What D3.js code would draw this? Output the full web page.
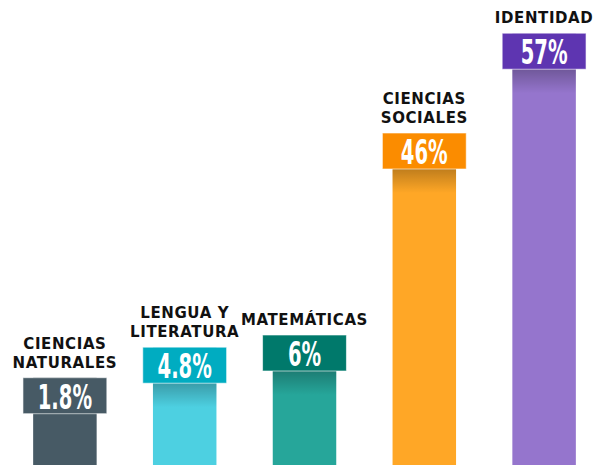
<!DOCTYPE html>
<html>
<head>
<meta charset="utf-8">
<script src="https://cdn.jsdelivr.net/npm/d3@7"></script>
<style>
    html, body { margin: 0; padding: 0; background: #fff; }
    svg { display: block; }
</style>
</head>
<body>
<svg id="chart_svg"></svg>
<script>
// Data
var categories = ['CIENCIAS NATURALES', 'LENGUA Y LITERATURA', 'MATEMÁTICAS', 'CIENCIAS SOCIALES', 'IDENTIDAD'];
var labelLines = [['CIENCIAS', 'NATURALES'], ['LENGUA Y', 'LITERATURA'], ['MATEMÁTICAS'], ['CIENCIAS', 'SOCIALES'], ['IDENTIDAD']];
var values = [1.8, 4.8, 6, 46, 57];
var valueLabels = ['1.8%', '4.8%', '6%', '46%', '57%'];
var barColors = ['#475a65', '#4dd0e1', '#26a69a', '#ffa726', '#9575cd'];
var boxColors = ['#475a65', '#00acc1', '#00796b', '#fb8c00', '#5e35b1'];

var frameW = 600,
    frameH = 465,
    boxH = 36;

var frame = d3.select('svg#chart_svg')
    .attr('width', frameW)
    .attr('height', frameH);

// shadow under the value boxes
var defs = frame.append('defs');
var grad = defs.append('linearGradient')
    .attr('id', 'shade')
    .attr('x1', 0).attr('y1', 0).attr('x2', 0).attr('y2', 1);
grad.append('stop').attr('offset', '0%').attr('stop-color', '#000').attr('stop-opacity', 0.25);
grad.append('stop').attr('offset', '100%').attr('stop-color', '#000').attr('stop-opacity', 0);

var xScale = d3.scaleBand()
    .domain(categories)
    .range([5, 604]);

// infographic scale: not proportional, so a broken (polylinear) scale
var yScale = d3.scaleLinear()
    .domain([0, 6, 46, 60])
    .range([396, 335, 133, 6]);

var barW = xScale.bandwidth() * 0.53,
    boxW = xScale.bandwidth() * 0.70;

var groups = frame.selectAll('g.bar')
    .data(values)
    .enter()
    .append('g')
    .attr('class', 'bar')
    .attr('transform', function (d, i) {
        return 'translate(' + (xScale(categories[i]) + xScale.bandwidth() / 2) + ',0)';
    });

groups.append('rect')
    .attr('x', -barW / 2)
    .attr('y', function (d) { return yScale(d); })
    .attr('width', barW)
    .attr('height', function (d) { return frameH - yScale(d); })
    .attr('fill', function (d, i) { return barColors[i]; });

groups.append('rect')
    .attr('x', -barW / 2)
    .attr('y', function (d) { return yScale(d) + boxH; })
    .attr('width', barW)
    .attr('height', 24)
    .attr('fill', 'url(#shade)')
    .attr('opacity', function (d, i) { return i === 0 ? 0 : 1; });

groups.append('rect')
    .attr('x', -boxW / 2)
    .attr('y', function (d) { return yScale(d); })
    .attr('width', boxW)
    .attr('height', boxH)
    .attr('fill', function (d, i) { return boxColors[i]; })
    .attr('stroke', 'rgba(255,255,255,0.6)')
    .attr('stroke-width', 1);

groups.append('text')
    .attr('transform', function (d) {
        return 'translate(0,' + (yScale(d) + 31) + ') scale(0.66,1)';
    })
    .attr('text-anchor', 'middle')
    .attr('fill', '#fff')
    .style('font-family', '"DejaVu Sans Condensed", "DejaVu Sans", sans-serif')
    .style('font-weight', 'bold')
    .style('font-size', '33px')
    .text(function (d, i) { return valueLabels[i]; });

// category names
groups.append('text')
    .attr('text-anchor', 'middle')
    .attr('fill', '#111')
    .style('font-family', '"DejaVu Sans", sans-serif')
    .style('font-weight', 'bold')
    .style('font-size', '15px')
    .style('letter-spacing', '0.6px')
    .each(function (d, i) {
        var lines = labelLines[i];
        var t = d3.select(this);
        lines.forEach(function (line, j) {
            t.append('tspan')
                .attr('x', 0)
                .attr('y', yScale(d) - 10 - (lines.length - 1 - j) * 19)
                .text(line);
        });
    });
</script>
</body>
</html>
